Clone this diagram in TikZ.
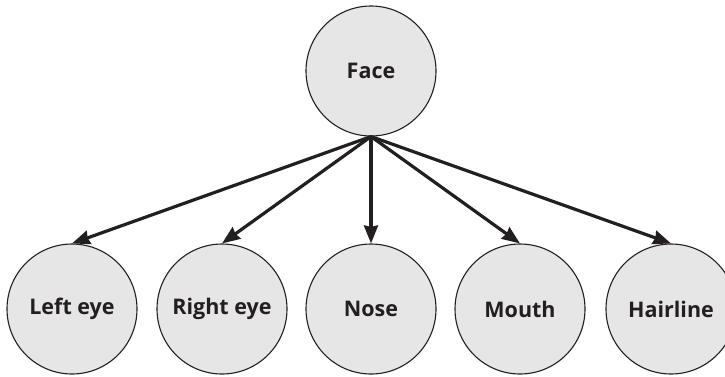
\documentclass[tikz,border=0pt]{standalone}
\usepackage{fontspec}
\setmainfont{Open Sans}
\usepackage{xcolor}
\usepackage{tikz}
\usetikzlibrary{arrows.meta, positioning, shapes}
\definecolor{facegray}{RGB}{230, 230, 230}
\definecolor{inkblack}{RGB}{35, 31, 32}

\begin{document}
\begin{tikzpicture}[
    x=1pt, y=-1pt,
    part/.style={circle, draw=inkblack, line width=1.1pt, minimum size=130pt, inner sep=0pt, fill=facegray, text=inkblack, font=\fontsize{21.5}{24}\selectfont\bfseries},
    arrow/.style={-{Stealth[length=18pt, width=14pt, inset=1.5pt]}, line width=3.2pt, draw=inkblack}
]
    \useasboundingbox (0,0) rectangle (725,376);

    % Whole
    \node[part] (face) at (371, 71) {Face};

    % Parts
    \node[part] (lefteye) at (72, 309) {Left eye};
    \node[part] (righteye) at (222, 309) {Right eye};
    \node[part] (nose) at (371, 309) {Nose};
    \node[part] (mouth) at (520, 309) {Mouth};
    \node[part] (hairline) at (671, 309) {Hairline};

    % Arrows
    \draw[arrow] (face.south) -- (lefteye.north);
    \draw[arrow] (face.south) -- (righteye.north);
    \draw[arrow] (face.south) -- (nose.north);
    \draw[arrow] (face.south) -- (mouth.north);
    \draw[arrow] (face.south) -- (hairline.north);
\end{tikzpicture}
\end{document}
